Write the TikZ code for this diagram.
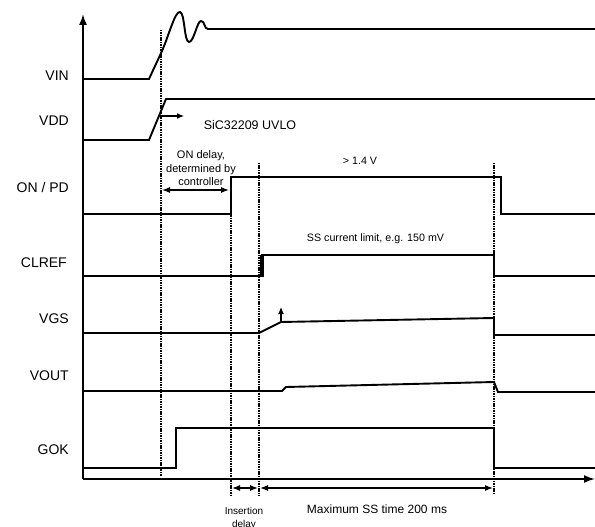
\documentclass[tikz,border=0pt]{standalone}
\usepackage{fontspec}
\setmainfont{Liberation Sans}
\usetikzlibrary{arrows.meta}
\begin{document}
\begin{tikzpicture}[x=1pt,y=-1pt,
  sig/.style={line width=1.9pt, line join=miter},
  axis/.style={line width=1.7pt, -{Latex[length=11pt,width=8pt]}},
  vdash/.style={line width=1.9pt, dash pattern=on 1.1pt off 0.6pt},
  lbl/.style={font=\fontsize{14}{16}\selectfont, anchor=east, inner sep=0pt},
  note/.style={font=\fontsize{11}{13.5}\selectfont, align=center, inner sep=0pt},
  small/.style={font=\fontsize{10.7}{12}\selectfont, inner sep=0pt},
  dim/.style={line width=1.1pt, {Latex[length=8pt,width=6pt]}-{Latex[length=8pt,width=6pt]}},
  tick/.style={line width=1.1pt, -{Latex[length=7pt,width=6pt]}}
]
\useasboundingbox (0,0) rectangle (595,527);

% axes
\coordinate (O) at (83,479);
\coordinate (ytop) at (83,14);
\coordinate (xend) at (595,479);
\draw[axis] (O) -- (ytop);
\draw[axis] (O) -- (xend);

% signal labels
\node[lbl] (lvin)  at (69,75.5)  {VIN};
\node[lbl] (lvdd)  at (69,121) {VDD};
\node[lbl] (lon)   at (69,187) {ON / PD};
\node[lbl] (lcl)   at (67,263) {CLREF};
\node[lbl] (lvgs)  at (69,319) {VGS};
\node[lbl] (lvout) at (69,376) {VOUT};
\node[lbl] (lgok)  at (69,450) {GOK};

% vertical timing markers
\coordinate (t1a) at (161,30);  \coordinate (t1b) at (161,477);
\coordinate (t2a) at (231,177); \coordinate (t2b) at (231,495);
\coordinate (t3a) at (259,163); \coordinate (t3b) at (259,495);
\coordinate (t4a) at (494,163); \coordinate (t4b) at (494,494);

% VIN
\draw[sig] (83,79) -- (149,79) -- (162,51)
  .. controls (169,35) and (175,11) .. (180,12)
  .. controls (185,13) and (184,42) .. (189,42)
  .. controls (194,42) and (197,21) .. (201,21)
  .. controls (205,21) and (204,29) .. (208,29) -- (595,29);

% VDD
\draw[sig] (83,140) -- (149,140) -- (166,99) -- (595,99);
\coordinate (uv) at (160,116);
\coordinate (uvend) at (184,116);
\draw[tick] (uv) -- (uvend);
\node[font=\fontsize{12.5}{14}\selectfont, inner sep=0pt] (uvlo) at (250,125) {SiC32209 UVLO};

% ON / PD
\draw[sig] (83,214) -- (231,214) -- (231,177) -- (501,177) -- (501,214) -- (595,214);
\node[note] (ondelay) at (201,168.5) {ON delay,\\determined by\\controller};
\coordinate (od1) at (162,190); \coordinate (od2) at (229,190);
\draw[dim] (od1) -- (od2);
\node[small] (v14) at (360,161) {> 1.4 V};

% CLREF
\draw[sig] (83,276) -- (262,276) -- (262,255) -- (494,255) -- (494,276) -- (595,276);
\draw[line width=4pt] (262,277) -- (262,255);
\node[small] (sscl) at (375.5,239) {SS current limit, e.g. 150 mV};

% VGS
\coordinate (vgsk) at (281,322);
\draw[sig] (83,333) -- (259,333) -- (vgsk) -- (494,318) -- (494,335) -- (595,335);
\coordinate (vgsup) at (281,307);
\draw[tick] (vgsk) -- (vgsup);

% VOUT
\draw[sig] (83,391) -- (282,391) -- (286,387) -- (494,382) -- (498,392) -- (595,392);

% GOK
\draw[sig] (83,468) -- (176,468) -- (176,428) -- (494,428) -- (494,468) -- (595,468);

% markers on top
\draw[vdash] (t1a) -- (t1b);
\draw[vdash] (t2a) -- (t2b);
\draw[vdash] (t3a) -- (t3b);
\draw[vdash] (t4a) -- (t4b);

% bottom dimensions
\coordinate (ins1) at (232,488); \coordinate (ins2) at (258,488);
\coordinate (ss1) at (260,488);  \coordinate (ss2) at (493,488);
\draw[dim] (ins1) -- (ins2);
\draw[dim] (ss1) -- (ss2);
\node[font=\fontsize{10}{12.5}\selectfont, align=center, inner sep=0pt, anchor=north] (insd) at (244,507.5) {Insertion\\delay};
\node[font=\fontsize{12}{14}\selectfont, inner sep=0pt] (maxss) at (377,509) {Maximum SS time 200 ms};
\end{tikzpicture}
\end{document}
